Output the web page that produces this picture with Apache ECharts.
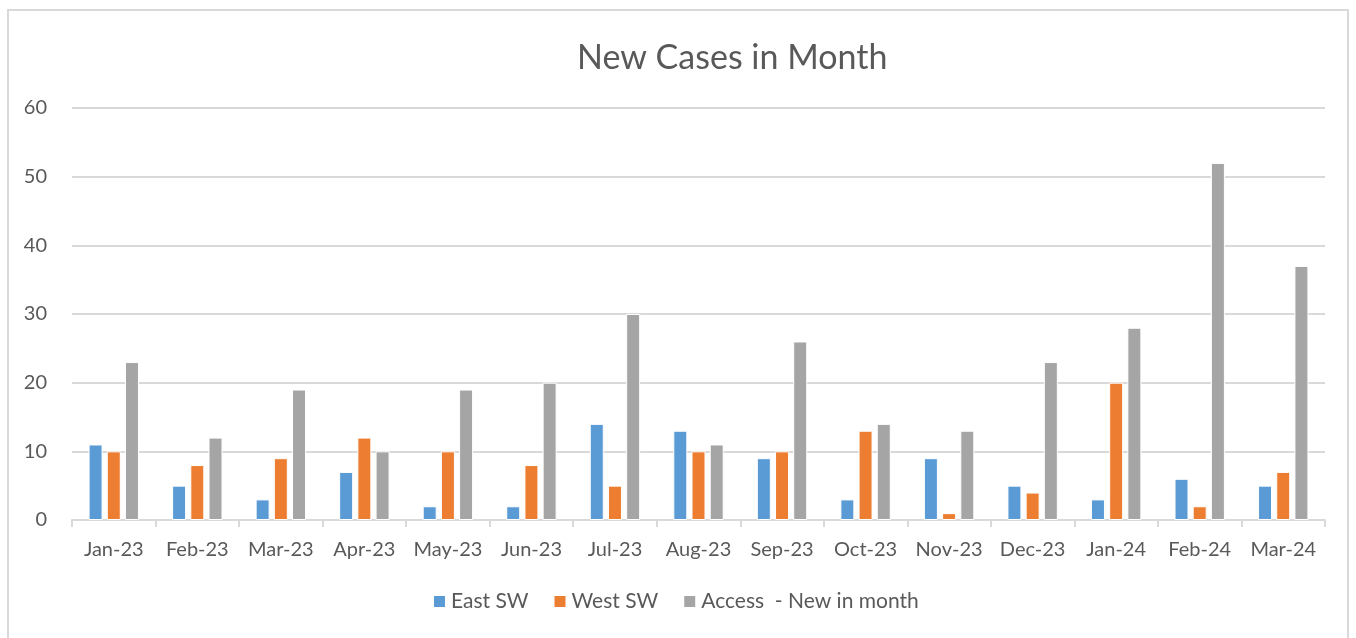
<!DOCTYPE html>
<html>
<head>
<meta charset="utf-8">
<title>New Cases in Month</title>
<script src="https://cdn.jsdelivr.net/npm/echarts@6/dist/echarts.min.js"></script>
<style>
  html, body { margin: 0; padding: 0; background: #fff; }
  #frame { position: absolute; left: 7px; top: 9px; width: 1342px; height: 640px;
           border: 2px solid #d9d9d9; box-sizing: border-box; }
  #main { position: absolute; left: 0; top: 0; width: 1356px; height: 638px; }
</style>
</head>
<body>
<div id="frame"></div>
<div id="main"></div>
<script>
var months = ['Jan-23','Feb-23','Mar-23','Apr-23','May-23','Jun-23','Jul-23','Aug-23',
              'Sep-23','Oct-23','Nov-23','Dec-23','Jan-24','Feb-24','Mar-24'];
var eastSW = [11, 5, 3, 7, 2, 2, 14, 13, 9, 3, 9, 5, 3, 6, 5];
var westSW = [10, 8, 9, 12, 10, 8, 5, 10, 10, 13, 1, 4, 20, 2, 7];
var access = [23, 12, 19, 10, 19, 20, 30, 11, 26, 14, 13, 23, 28, 52, 37];

var textColor = '#595959';
var fontName = 'Lato, "Open Sans", sans-serif';

function barSeries(name, data, color) {
    return {
        name: name,
        type: 'bar',
        data: data,
        barWidth: 14,
        barGap: '30%',
        itemStyle: { color: color, borderColor: '#ffffff', borderWidth: 1 },
        emphasis: { disabled: true }
    };
}

var chart = echarts.init(document.getElementById('main'));
chart.setOption({
    animation: false,
    backgroundColor: 'transparent',
    title: {
        text: 'New Cases in Month',
        left: 572,
        top: 36,
        textStyle: { color: textColor, fontSize: 34, fontWeight: 'normal', fontFamily: fontName }
    },
    legend: {
        bottom: 21,
        left: 427,
        itemWidth: 13,
        itemHeight: 13,
        itemGap: 24,
        icon: 'rect',
        textStyle: { color: textColor, fontSize: 21, fontFamily: fontName },
        data: ['East SW', 'West SW', 'Access  - New in month']
    },
    grid: { left: 72, right: 31, top: 108, bottom: 118, containLabel: false },
    xAxis: {
        type: 'category',
        data: months,
        axisLine: { lineStyle: { color: '#d9d9d9', width: 2 } },
        axisTick: { show: true, length: 7, lineStyle: { color: '#d9d9d9', width: 2 } },
        axisLabel: { color: textColor, fontSize: 20, fontFamily: fontName, margin: 20,
                     interval: 0, hideOverlap: false }
    },
    yAxis: {
        type: 'value',
        min: 0,
        max: 60,
        interval: 10,
        axisLine: { show: false },
        axisTick: { show: false },
        splitLine: { lineStyle: { color: '#d9d9d9', width: 2 } },
        axisLabel: { color: textColor, fontSize: 20, fontFamily: fontName, margin: 25 }
    },
    series: [
        barSeries('East SW', eastSW, '#5b9bd5'),
        barSeries('West SW', westSW, '#ed7d31'),
        barSeries('Access  - New in month', access, '#a5a5a5')
    ]
});
</script>
</body>
</html>
